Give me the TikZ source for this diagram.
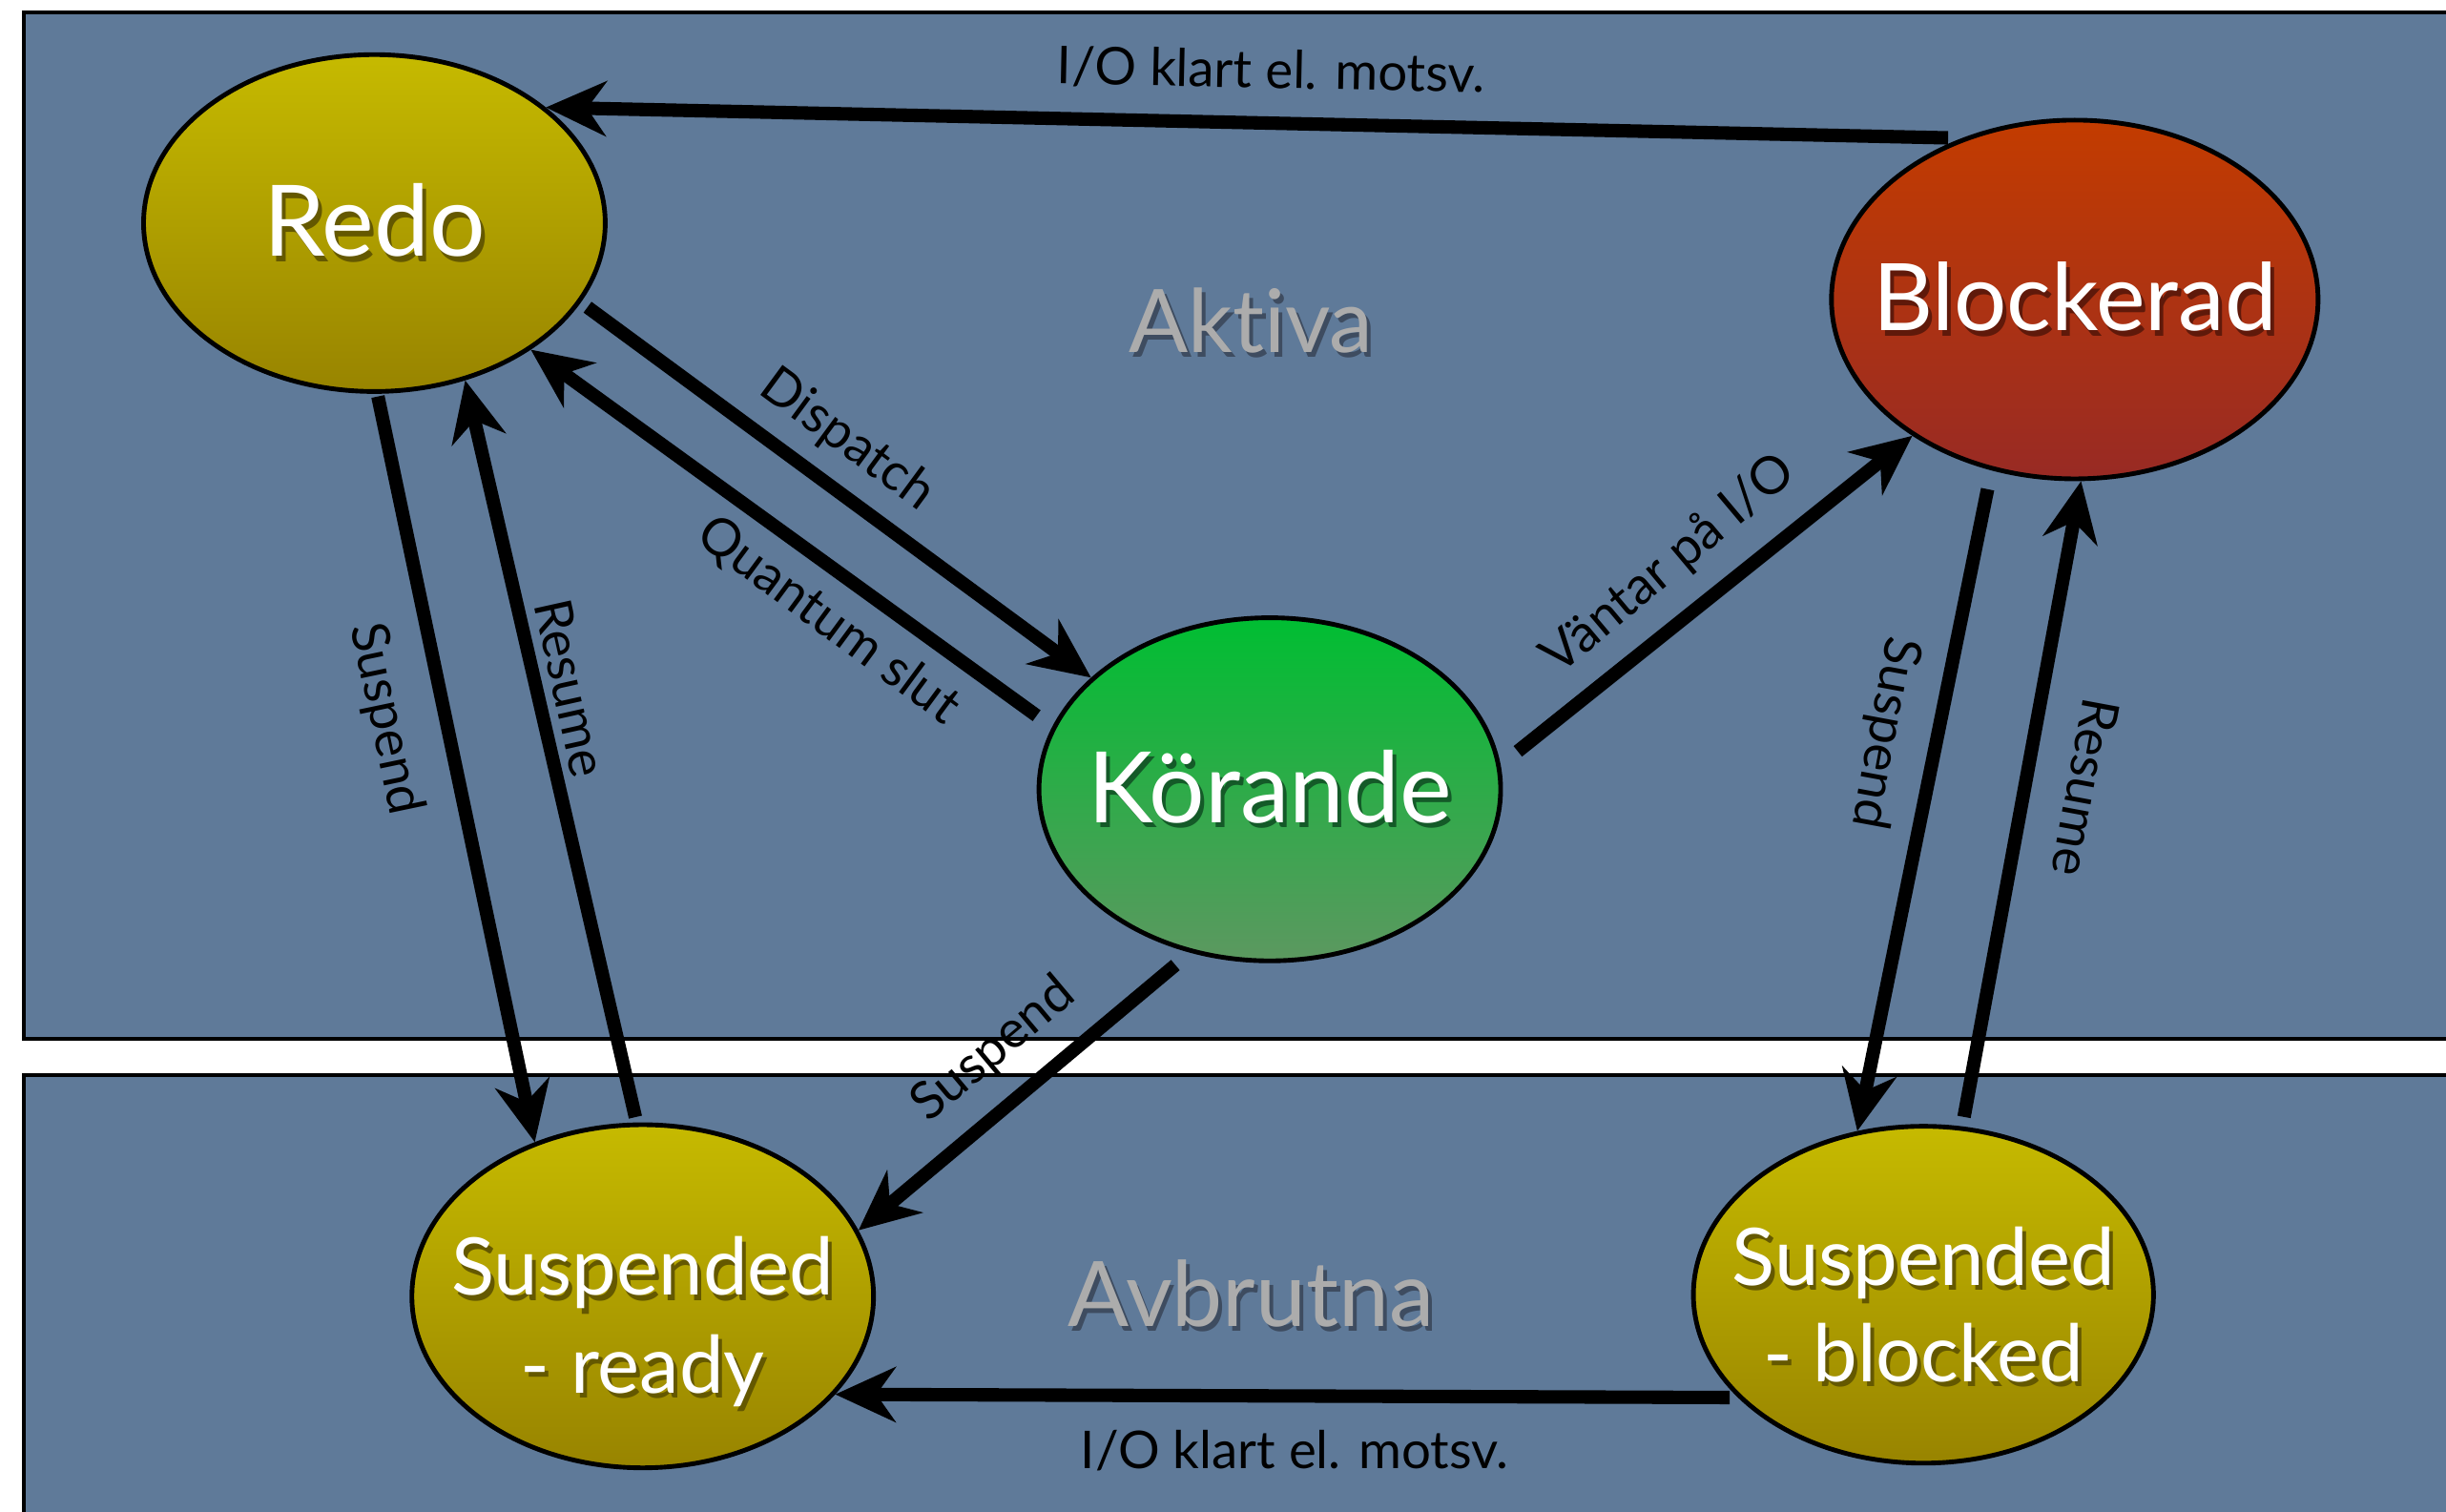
\documentclass[tikz,border=0pt]{standalone}
\usepackage{fontspec}
\setmainfont{Lato}[Ligatures=NoCommon]
\usetikzlibrary{arrows.meta,shapes.geometric}

\definecolor{panelbg}{RGB}{95,122,153}
\definecolor{ylwtop}{RGB}{198,186,0}
\definecolor{ylwbot}{RGB}{152,132,0}
\definecolor{ylwshade}{RGB}{100,88,0}
\definecolor{redtop}{RGB}{195,60,0}
\definecolor{redbot}{RGB}{152,42,36}
\definecolor{redshade}{RGB}{95,25,10}
\definecolor{grntop}{RGB}{0,190,50}
\definecolor{grnbot}{RGB}{92,152,96}
\definecolor{grnshade}{RGB}{20,90,40}
\definecolor{zonegray}{RGB}{172,172,172}
\definecolor{zoneshade}{RGB}{62,76,96}

% text with a small drop shadow behind it
\newcommand{\shadowed}[2]{\leavevmode\rlap{\hspace{1.4pt}\raisebox{-1.8pt}{\textcolor{#1}{#2}}}#2}

\begin{document}
\begin{tikzpicture}[x=0.02cm, y=-0.02cm,
  panel/.style={draw=black, line width=1.4pt, fill=panelbg},
  state/.style={ellipse, draw=black, line width=1.7pt, inner sep=0pt},
  yellowstate/.style={state, top color=ylwtop, bottom color=ylwbot},
  redstate/.style={state, top color=redtop, bottom color=redbot},
  greenstate/.style={state, top color=grntop, bottom color=grnbot},
  statetext/.style={text=white, align=center, inner sep=0pt},
  zonetext/.style={text=zonegray, font=\fontsize{32}{38}\selectfont, inner sep=0pt},
  edgelabel/.style={text=black, font=\fontsize{19}{23}\selectfont, inner sep=0pt},
  flow/.style={line width=4.9pt, -{Stealth[length=22pt,width=20pt,inset=7pt]}},
]
\useasboundingbox (0,0) rectangle (1568,969);
\clip (0,0) rectangle (1568,969);
\fill[white] (0,0) rectangle (1568,969);

% the two regions
\draw[panel] (15,8) rectangle (1620,666);
\draw[panel] (15,689) rectangle (1620,1030);

% region titles
\node[zonetext] (aktiva) at (802,207) {\shadowed{zoneshade}{Aktiva}};
\node[zonetext, font=\fontsize{33}{38}\selectfont] (avbrutna) at (802,831) {\shadowed{zoneshade}{Avbrutna}};

% states
\node[yellowstate, minimum width=5.92cm, minimum height=4.32cm] (redo) at (240,143) {};
\node[redstate, minimum width=6.24cm, minimum height=4.6cm] (blk) at (1330,192) {};
\node[greenstate, minimum width=5.92cm, minimum height=4.4cm] (kor) at (814,506) {};
\node[yellowstate, minimum width=5.92cm, minimum height=4.4cm] (sr) at (412,831) {};
\node[yellowstate, minimum width=5.9cm, minimum height=4.32cm] (sb) at (1233,830) {};

\node[statetext, font=\fontsize{36}{40}\selectfont] (redo-t) at (redo) {\shadowed{ylwshade}{Redo}};
\node[statetext, font=\fontsize{34}{40}\selectfont] (blk-t) at (blk) {\shadowed{redshade}{Blockerad}};
\node[statetext, font=\fontsize{36}{40}\selectfont] (kor-t) at (kor) {\shadowed{grnshade}{Körande}};
\node[statetext, font=\fontsize{29}{35.7}\selectfont] (sr-t) at (412,849) {\shadowed{ylwshade}{Suspended}\\\shadowed{ylwshade}{- ready}};
\node[statetext, font=\fontsize{29}{35.2}\selectfont] (sb-t) at (1233,838) {\shadowed{ylwshade}{Suspended}\\\shadowed{ylwshade}{- blocked}};

% transitions
\draw[flow, shorten <=5pt] (blk.125.3) -- (redo.34.8);
\draw[flow, shorten <=3pt] (redo.-21.8) -- (kor.148.1);
\draw[flow, shorten <=7pt] (kor.164.5) -- (redo.-39.5);
\draw[flow, shorten <=1pt] (redo.-89.5) -- (sr.125.9);
\draw[flow, shorten <=2pt] (sr.92) -- (redo.-60.6);
\draw[flow, shorten <=8pt] (kor.6.7) -- (blk.-140.9);
\draw[flow, shorten <=7pt] (kor.-116.4) -- (sr.17.8);
\draw[flow, shorten <=7pt] (blk.-116.4) -- (sb.112.4);
\draw[flow, shorten <=3.5pt] (sb.77.5) -- (blk.-88.6);
\draw[flow, shorten <=3pt] (sb.-151.4) -- (sr.-27.3);

% transition labels
\node[edgelabel, rotate=-1.2] (l-io-top) at (815,45) {I/O klart el. motsv.};
\node[edgelabel, rotate=-36.3] (l-dispatch) at (543,282) {Dispatch};
\node[edgelabel, rotate=-36.4] (l-quantum) at (531,398) {Quantum slut};
\node[edgelabel, rotate=-78.2] (l-susp-redo) at (247,461) {Suspend};
\node[edgelabel, rotate=-77.5] (l-res-redo) at (366,441) {Resume};
\node[edgelabel, rotate=40] (l-vantar) at (1070,362) {Väntar på I/O};
\node[edgelabel, rotate=40] (l-susp-kor) at (637,673) {Suspend};
\node[edgelabel, rotate=-100.5] (l-susp-blk) at (1208,470) {Suspend};
\node[edgelabel, rotate=-100.5] (l-res-blk) at (1337,505) {Resume};
\node[edgelabel] (l-io-bot) at (830,930) {I/O klart el. motsv.};
\end{tikzpicture}
\end{document}
